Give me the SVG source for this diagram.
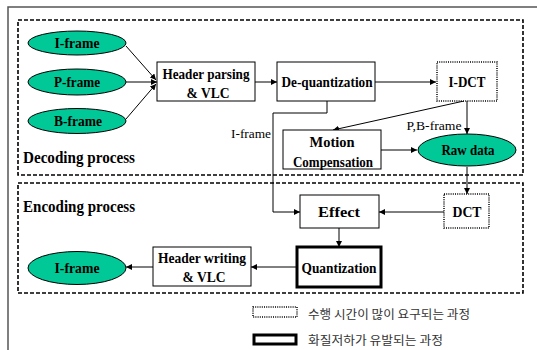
<svg xmlns="http://www.w3.org/2000/svg" width="537" height="350" viewBox="0 0 537 350">
<style>
.frame{fill:none;stroke:#555;stroke-width:1.5}
.dash{fill:none;stroke:#000;stroke-width:1.6;stroke-dasharray:4 2}
.dot{fill:#fff;stroke:#000;stroke-width:1.5;stroke-dasharray:1 1.2}
.box{fill:#fff;stroke:#000;stroke-width:1}
.thick{fill:#fff;stroke:#000;stroke-width:3}
.ell{fill:#00c896;stroke:#000;stroke-width:1}
.t{font-weight:bold;font-size:14px;fill:#000;text-anchor:middle;dominant-baseline:central}
.lbl{font-size:13px;fill:#000;text-anchor:middle;dominant-baseline:central}
.sec{font-weight:bold;font-size:16px;fill:#000;dominant-baseline:central}
.kr{font-size:12px;fill:#333;dominant-baseline:central}
.c{fill:none;stroke:#000;stroke-width:1}
</style>
<defs>
<marker id="a" viewBox="0 0 10 10" refX="10" refY="5" markerWidth="6" markerHeight="6" markerUnits="userSpaceOnUse" orient="auto">
<path d="M0,0 L10,5 L0,10 z" fill="#000"/>
</marker>
</defs>
<path class="frame" d="M8,350 V7 H537"/>
<rect class="dash" x="18" y="20" width="505" height="155"/>
<rect class="dash" x="18" y="183" width="505" height="110"/>
<g font-family="Liberation Serif, Times New Roman, serif">
<text class="sec" x="23" y="157" textLength="112" lengthAdjust="spacingAndGlyphs">Decoding process</text>
<text class="sec" x="23" y="206" textLength="112" lengthAdjust="spacingAndGlyphs">Encoding process</text>
<g id="connectors">
<line class="c" x1="126" y1="46" x2="156" y2="80" marker-end="url(#a)"/>
<line class="c" x1="126" y1="82" x2="157" y2="82" marker-end="url(#a)"/>
<line class="c" x1="126" y1="119" x2="156" y2="84" marker-end="url(#a)"/>
<line class="c" x1="255" y1="82" x2="277" y2="82" marker-end="url(#a)"/>
<line class="c" x1="375" y1="82" x2="436" y2="82" marker-end="url(#a)"/>
<line class="c" x1="464" y1="101" x2="333" y2="130" marker-end="url(#a)"/>
<line class="c" x1="467" y1="101" x2="467" y2="134" marker-end="url(#a)"/>
<line class="c" x1="381" y1="150" x2="417" y2="150" marker-end="url(#a)"/>
<path class="c" d="M327,101 V113 H273 V212 H300" marker-end="url(#a)"/>
<line class="c" x1="467" y1="167" x2="467" y2="194" marker-end="url(#a)"/>
<line class="c" x1="444" y1="212" x2="379" y2="212" marker-end="url(#a)"/>
<line class="c" x1="339" y1="228" x2="339" y2="247" marker-end="url(#a)"/>
<line class="c" x1="297" y1="267" x2="251" y2="267" marker-end="url(#a)"/>
<line class="c" x1="153" y1="267" x2="126" y2="267" marker-end="url(#a)"/>
<text class="lbl" x="251" y="133" textLength="40" lengthAdjust="spacingAndGlyphs">I-frame</text>
<text class="lbl" x="434" y="125" textLength="55" lengthAdjust="spacingAndGlyphs">P,B-frame</text>
</g>
<g id="iframe-in"><ellipse class="ell" cx="77" cy="43" rx="49" ry="12"/><text class="t" x="77" y="43" textLength="45" lengthAdjust="spacingAndGlyphs">I-frame</text></g>
<g id="pframe-in"><ellipse class="ell" cx="77" cy="82" rx="49" ry="13"/><text class="t" x="77" y="82" textLength="46" lengthAdjust="spacingAndGlyphs">P-frame</text></g>
<g id="bframe-in"><ellipse class="ell" cx="77" cy="121" rx="49" ry="12.5"/><text class="t" x="78" y="121" textLength="48" lengthAdjust="spacingAndGlyphs">B-frame</text></g>
<g id="header-parsing"><rect class="box" x="157" y="62" width="98" height="39"/><text class="t" x="206" y="74" textLength="87" lengthAdjust="spacingAndGlyphs">Header parsing</text><text class="t" x="208" y="93" textLength="43" lengthAdjust="spacingAndGlyphs">&amp; VLC</text></g>
<g id="dequant"><rect class="box" x="277" y="62" width="98" height="39"/><text class="t" x="327" y="82" textLength="91" lengthAdjust="spacingAndGlyphs">De-quantization</text></g>
<g id="idct"><rect class="dot" x="437" y="62" width="60" height="39"/><text class="t" x="467" y="82" textLength="37" lengthAdjust="spacingAndGlyphs">I-DCT</text></g>
<g id="motion"><rect class="box" x="283" y="130" width="98" height="39"/><text class="t" x="332" y="142" textLength="45" lengthAdjust="spacingAndGlyphs">Motion</text><text class="t" x="333" y="162" textLength="80" lengthAdjust="spacingAndGlyphs">Compensation</text></g>
<g id="rawdata"><ellipse class="ell" cx="467" cy="150" rx="49" ry="16"/><text class="t" x="468" y="150" textLength="53" lengthAdjust="spacingAndGlyphs">Raw data</text></g>
<g id="dct"><rect class="dot" x="444" y="194" width="45" height="34"/><text class="t" x="467" y="212" textLength="29" lengthAdjust="spacingAndGlyphs">DCT</text></g>
<g id="effect"><rect class="box" x="300" y="195" width="79" height="33"/><text class="t" x="339" y="212" textLength="42" lengthAdjust="spacingAndGlyphs">Effect</text></g>
<g id="quant"><rect class="thick" x="297" y="247" width="84" height="40"/><text class="t" x="339" y="268" textLength="75" lengthAdjust="spacingAndGlyphs">Quantization</text></g>
<g id="header-writing"><rect class="box" x="153" y="247" width="98" height="39"/><text class="t" x="202" y="258" textLength="88" lengthAdjust="spacingAndGlyphs">Header writing</text><text class="t" x="204" y="277" textLength="43" lengthAdjust="spacingAndGlyphs">&amp; VLC</text></g>
<g id="iframe-out"><ellipse class="ell" cx="77" cy="268" rx="49" ry="16.5"/><text class="t" x="77" y="268" textLength="45" lengthAdjust="spacingAndGlyphs">I-frame</text></g>
</g>
<g id="legend" font-family="Noto Sans CJK KR, Noto Sans, sans-serif">
<rect class="dot" x="253" y="307" width="44" height="10"/>
<text class="kr" x="308" y="313" textLength="162" lengthAdjust="spacingAndGlyphs">수행 시간이 많이 요구되는 과정</text>
<rect class="thick" x="254" y="335" width="42" height="9"/>
<text class="kr" x="308" y="339" textLength="135" lengthAdjust="spacingAndGlyphs">화질저하가 유발되는 과정</text>
</g>
</svg>
